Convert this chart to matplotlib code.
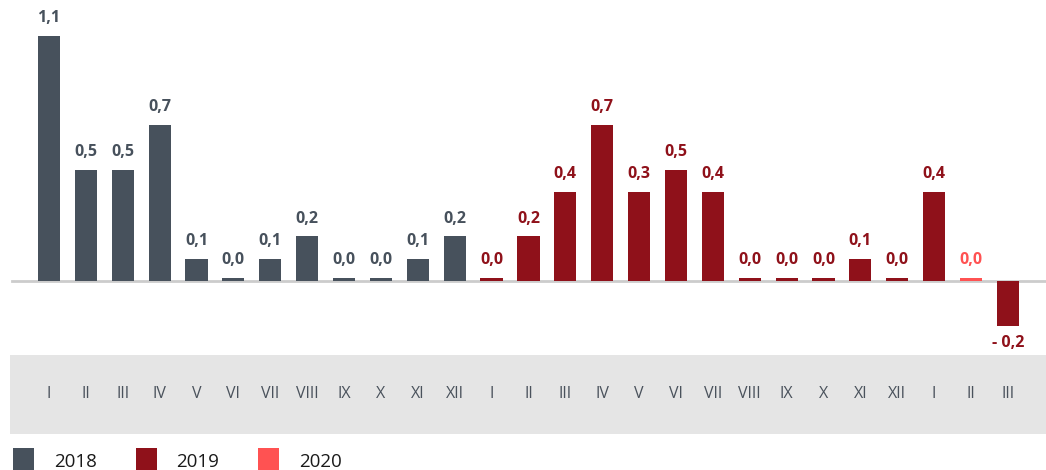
import matplotlib.pyplot as plt
from matplotlib.patches import Rectangle

plt.rcParams['font.family'] = ['Open Sans', 'DejaVu Sans']

months = ['I', 'II', 'III', 'IV', 'V', 'VI', 'VII', 'VIII', 'IX', 'X', 'XI', 'XII',
          'I', 'II', 'III', 'IV', 'V', 'VI', 'VII', 'VIII', 'IX', 'X', 'XI', 'XII',
          'I', 'II', 'III']
# bar heights as drawn, and the printed labels
heights = [1.1, 0.5, 0.5, 0.7, 0.1, 0.013, 0.1, 0.2, 0.013, 0.013, 0.1, 0.2,
           0.013, 0.2, 0.4, 0.7, 0.4, 0.5, 0.4, 0.013, 0.013, 0.013, 0.1, 0.013,
           0.4, 0.013, -0.2]
labels = ['1,1', '0,5', '0,5', '0,7', '0,1', '0,0', '0,1', '0,2', '0,0', '0,0', '0,1', '0,2',
          '0,0', '0,2', '0,4', '0,7', '0,3', '0,5', '0,4', '0,0', '0,0', '0,0', '0,1', '0,0',
          '0,4', '0,0', '- 0,2']
series = ['2018'] * 12 + ['2019'] * 12 + ['2019', '2020', '2019']
legend_years = ['2018', '2019', '2020']

colors = {'2018': '#47515c', '2019': '#8f111a', '2020': '#ff5252'}

W, H = 1046, 470
fig = plt.figure(figsize=(W / 100, H / 100), dpi=100)
ax = fig.add_axes([0, 0, 1, 1])
ax.axis('off')

step = 36.88
scale = 223.0
x0, y0 = 49, 281
ax.set_xlim(-x0 / step, (W - x0) / step)
ax.set_ylim(-(H - y0) / scale, y0 / scale)

def py(p):
    # pixel row -> data y
    return (y0 - p) / scale

# grey band behind month names
ax.axhspan(py(434), py(355), xmin=10 / W, xmax=1, color='#e5e5e5', lw=0, zorder=0)
ax.axhline(0, xmin=12 / W, xmax=1, color='#cccccc', lw=2, zorder=1)

xs = list(range(len(months)))
ax.bar(xs, heights, width=0.6, color=[colors[s] for s in series], zorder=2)

for x, h, lab, s in zip(xs, heights, labels, series):
    if h >= 0:
        ax.annotate(lab, (x, h), xytext=(0, 7), textcoords='offset points',
                    ha='center', va='bottom', fontsize=11.5, fontweight='bold',
                    color=colors[s])
    else:
        ax.annotate(lab, (x, h), xytext=(0, -7), textcoords='offset points',
                    ha='center', va='top', fontsize=11.5, fontweight='bold',
                    color=colors[s])
    ax.text(x, py(394), months[x], ha='center', va='center', fontsize=11.5,
            color='#4a525c')

# legend
for i, yr in enumerate(legend_years):
    lx = 13 + i * 122.5
    fig.add_artist(Rectangle((lx / W, 0), 21 / W, 22 / H, transform=fig.transFigure,
                             color=colors[yr], lw=0))
    fig.text((lx + 41) / W, 1 - 462 / H, yr, ha='left', va='center',
             fontsize=13.5, color='#1a1a1a')

fig.savefig('out.png', dpi=100)
